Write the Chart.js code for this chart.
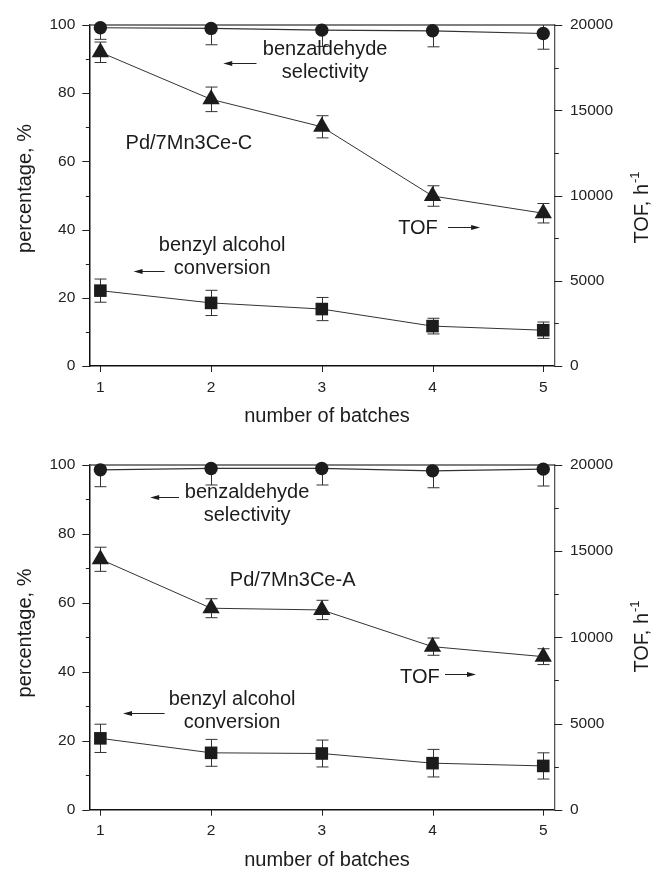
<!DOCTYPE html>
<html>
<head>
<meta charset="utf-8">
<script src="https://cdn.jsdelivr.net/npm/chart.js@4/dist/chart.umd.min.js"></script>
<style>
  html, body { margin: 0; padding: 0; background: #fff; }
  #wrap { position: relative; width: 654px; height: 870px; }
  canvas { position: absolute; left: 0; }
</style>
</head>
<body>
<div id="wrap">
  <canvas id="chartC" width="654" height="440" style="top:0px"></canvas>
  <canvas id="chartA" width="654" height="430" style="top:440px"></canvas>
</div>
<script>
// ---- data ----
const batches = [1, 2, 3, 4, 5];
const leftTicks = [0, 20, 40, 60, 80, 100];
const leftMinor = [10, 30, 50, 70, 90];
const rightTicks = [0, 5000, 10000, 15000, 20000];
const rightMinor = [2500, 7500, 12500, 17500];

// Pd/7Mn3Ce-C
const convC = [22.1, 18.5, 16.7, 11.7, 10.5];
const convErrC = [3.4, 3.7, 3.4, 2.3, 2.4];
const selC = [99.2, 99.0, 98.5, 98.3, 97.5];
const selErrC = [3.4, 4.8, 4.8, 4.7, 4.6];
const tofC = [18400, 15640, 14030, 9970, 8960];
const tofErrC = [600, 720, 650, 600, 570];

// Pd/7Mn3Ce-A
const convA = [20.7, 16.5, 16.3, 13.5, 12.7];
const convErrA = [4.1, 3.9, 3.9, 4.0, 3.8];
const selA = [98.6, 99.0, 99.0, 98.3, 98.8];
const selErrA = [4.9, 4.8, 4.8, 4.9, 4.9];
const tofA = [14530, 11690, 11590, 9460, 8880];
const tofErrA = [700, 550, 560, 500, 460];

const FONT = "'Liberation Sans', Arial, Helvetica, sans-serif";
const INK = '#1c1c1c';

// ---- plugins ----
const frameAndErrors = {
  id: 'frameAndErrors',
  beforeDatasetsDraw(chart) {
    const ctx = chart.ctx, a = chart.chartArea;
    // top frame line
    ctx.save();
    ctx.strokeStyle = '#555';
    ctx.lineWidth = 1.3;
    ctx.beginPath();
    ctx.moveTo(a.left, a.top);
    ctx.lineTo(a.right, a.top);
    ctx.stroke();
    ctx.restore();

    // error bars
    ctx.save();
    ctx.beginPath();
    ctx.rect(a.left, a.top, a.right - a.left, a.bottom - a.top);
    ctx.clip();
    ctx.strokeStyle = '#333';
    ctx.lineWidth = 1;
    const xs = chart.scales.x;
    chart.data.datasets.forEach(ds => {
      const ys = chart.scales[ds.yAxisID];
      ds.data.forEach((p, j) => {
        const e = ds.errors[j];
        const px = Math.round(xs.getPixelForValue(p.x)) + 0.5;
        const t = ys.getPixelForValue(p.y + e);
        const b = ys.getPixelForValue(p.y - e);
        ctx.beginPath();
        ctx.moveTo(px, t); ctx.lineTo(px, b);
        ctx.moveTo(px - 6, t); ctx.lineTo(px + 6, t);
        ctx.moveTo(px - 6, b); ctx.lineTo(px + 6, b);
        ctx.stroke();
      });
    });
    ctx.restore();
  },
  afterDraw(chart) {
    const ctx = chart.ctx, a = chart.chartArea;
    const xs = chart.scales.x, yl = chart.scales.y, yr = chart.scales.y1;
    const L = chart.options.plugins.frameAndErrors;
    ctx.save();
    ctx.strokeStyle = '#222';
    ctx.lineWidth = 1;
    // outward tick marks
    const tick = (x1, y1, x2, y2) => { ctx.beginPath(); ctx.moveTo(x1, y1); ctx.lineTo(x2, y2); ctx.stroke(); };
    leftTicks.forEach(v => { const y = Math.round(yl.getPixelForValue(v)) + 0.5; tick(a.left - 7, y, a.left, y); });
    leftMinor.forEach(v => { const y = Math.round(yl.getPixelForValue(v)) + 0.5; tick(a.left - 3.5, y, a.left, y); });
    rightTicks.forEach(v => { const y = Math.round(yr.getPixelForValue(v)) + 0.5; tick(a.right, y, a.right + 8, y); });
    rightMinor.forEach(v => { const y = Math.round(yr.getPixelForValue(v)) + 0.5; tick(a.right, y, a.right + 4.5, y); });
    batches.forEach(v => { const x = Math.round(xs.getPixelForValue(v)) + 0.5; tick(x, a.bottom, x, a.bottom + 6); });

    // annotations
    ctx.fillStyle = INK;
    ctx.font = '20px ' + FONT;
    ctx.textBaseline = 'alphabetic';
    L.texts.forEach(t => {
      ctx.textAlign = t.align;
      const x = xs.getPixelForValue(t.x);
      const y = yl.getPixelForValue(t.y);
      t.lines.forEach((s, k) => ctx.fillText(s, x, y + k * 23.3));
    });
    L.arrows.forEach(ar => {
      const x1 = xs.getPixelForValue(ar.x1);
      const x2 = xs.getPixelForValue(ar.x2);
      const y = Math.round(yl.getPixelForValue(ar.y)) + 0.5;
      const dir = Math.sign(x2 - x1);
      ctx.beginPath();
      ctx.moveTo(x1, y); ctx.lineTo(x2 - dir * 6, y);
      ctx.stroke();
      ctx.beginPath();
      ctx.moveTo(x2, y);
      ctx.lineTo(x2 - dir * 9, y - 2.5);
      ctx.lineTo(x2 - dir * 9, y + 2.5);
      ctx.closePath();
      ctx.fill();
    });

    // axis titles
    ctx.textAlign = 'center';
    ctx.fillText('number of batches', L.xTitle[0], L.xTitle[1]);

    ctx.save();
    ctx.translate(L.yTitle[0], L.yTitle[1]);
    ctx.rotate(-Math.PI / 2);
    ctx.fillText('percentage, %', 0, 0);
    ctx.restore();

    ctx.save();
    ctx.translate(L.y1Title[0], L.y1Title[1]);
    ctx.rotate(-Math.PI / 2);
    ctx.textAlign = 'left';
    ctx.font = '20px ' + FONT;
    const main = 'TOF, h';
    const wMain = ctx.measureText(main).width;
    ctx.font = '13px ' + FONT;
    const wSup = ctx.measureText('-1').width;
    const start = -(wMain + wSup) / 2;
    ctx.font = '20px ' + FONT;
    ctx.fillText(main, start, 0);
    ctx.font = '13px ' + FONT;
    ctx.fillText('-1', start + wMain + 1, -9);
    ctx.restore();

    ctx.restore();
  }
};

function series(values, errors, axis, style, radius, width) {
  return {
    data: batches.map((b, i) => ({ x: b, y: values[i] })),
    errors,
    yAxisID: axis,
    borderColor: '#333',
    borderWidth: width,
    backgroundColor: INK,
    pointBackgroundColor: INK,
    pointBorderColor: INK,
    pointBorderWidth: 0,
    pointStyle: style,
    pointRadius: radius,
    pointHoverRadius: radius,
    tension: 0,
    clip: false
  };
}

function buildChart(id, conv, convErr, sel, selErr, tof, tofErr, layout) {
  const tickFont = { family: FONT, size: 15.5 };
  return new Chart(document.getElementById(id), {
    type: 'line',
    data: {
      datasets: [
        series(conv, convErr, 'y', 'rect', 8.9, 1),
        series(sel, selErr, 'y', 'circle', 6.7, 1.2),
        series(tof, tofErr, 'y1', 'triangle', 10, 1)
      ]
    },
    options: {
      responsive: false,
      animation: false,
      devicePixelRatio: 1,
      events: [],
      layout: { padding: { top: layout.top, left: 0, right: 0, bottom: 0 }, autoPadding: false },
      plugins: {
        legend: { display: false },
        tooltip: { enabled: false },
        frameAndErrors: layout
      },
      scales: {
        x: {
          type: 'linear', position: 'bottom', min: 0.9, max: 5.1,
          afterBuildTicks: s => { s.ticks = batches.map(v => ({ value: v })); },
          afterFit: s => { s.height = layout.xHeight; },
          grid: { drawOnChartArea: false, drawTicks: false },
          border: { display: true, color: '#111', width: 1.5 },
          ticks: { padding: 12, color: '#222', font: tickFont, callback: v => String(v) }
        },
        y: {
          type: 'linear', position: 'left', min: 0, max: 100,
          afterBuildTicks: s => { s.ticks = leftTicks.map(v => ({ value: v })); },
          afterFit: s => { s.width = 89.3; },
          grid: { drawOnChartArea: false, drawTicks: false },
          border: { display: true, color: '#111', width: 1.5 },
          ticks: { padding: 14, color: '#222', font: tickFont, callback: v => String(v) }
        },
        y1: {
          type: 'linear', position: 'right', min: 0, max: 20000,
          afterBuildTicks: s => { s.ticks = rightTicks.map(v => ({ value: v })); },
          afterFit: s => { s.width = 654 - 554.3; },
          grid: { drawOnChartArea: false, drawTicks: false },
          border: { display: true, color: '#555', width: 1.3 },
          ticks: { padding: 15.7, color: '#222', font: tickFont, callback: v => String(v) }
        }
      }
    },
    plugins: [frameAndErrors]
  });
}

buildChart('chartC', convC, convErrC, selC, selErrC, tofC, tofErrC, {
  top: 21.5, xHeight: 74,
  xTitle: [327, 421.5], yTitle: [31, 188.5], y1Title: [648, 208],
  texts: [
    { lines: ['benzaldehyde', 'selectivity'], x: 3.03, y: 91.2, align: 'center' },
    { lines: ['Pd/7Mn3Ce-C'], x: 1.80, y: 63.6, align: 'center' },
    { lines: ['benzyl alcohol', 'conversion'], x: 2.10, y: 33.7, align: 'center' },
    { lines: ['TOF'], x: 3.69, y: 38.6, align: 'left' }
  ],
  arrows: [
    { x1: 2.41, x2: 2.11, y: 88.8 },
    { x1: 1.58, x2: 1.30, y: 27.9 },
    { x1: 4.14, x2: 4.43, y: 40.7 }
  ]
});

buildChart('chartA', convA, convErrA, selA, selErrA, tofA, tofErrA, {
  top: 25, xHeight: 60.3,
  xTitle: [327, 426], yTitle: [31, 193], y1Title: [648, 197],
  texts: [
    { lines: ['benzaldehyde', 'selectivity'], x: 2.325, y: 90.4, align: 'center' },
    { lines: ['Pd/7Mn3Ce-A'], x: 2.737, y: 64.9, align: 'center' },
    { lines: ['benzyl alcohol', 'conversion'], x: 2.19, y: 30.4, align: 'center' },
    { lines: ['TOF'], x: 3.707, y: 36.7, align: 'left' }
  ],
  arrows: [
    { x1: 1.71, x2: 1.45, y: 90.7 },
    { x1: 1.58, x2: 1.205, y: 28.0 },
    { x1: 4.113, x2: 4.393, y: 39.3 }
  ]
});
</script>
</body>
</html>
